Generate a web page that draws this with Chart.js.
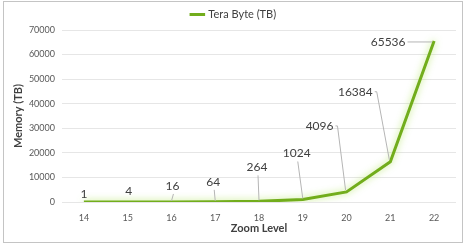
<!DOCTYPE html>
<html>
<head>
<meta charset="utf-8">
<script src="https://cdn.jsdelivr.net/npm/chart.js"></script>
<style>
  html, body { margin: 0; padding: 0; background: #fff; }
  #frame { position: absolute; left: 3px; top: 1px; width: 458px; height: 240px; border: 1.5px solid #c4c4c4; }
  #wrap { position: absolute; left: 0; top: 0; width: 471px; height: 246px; }
</style>
</head>
<body>
<div id="frame"></div>
<div id="wrap"><canvas id="chart" width="471" height="246"></canvas></div>
<script>
// data
const zoomLevels = ['14', '15', '16', '17', '18', '19', '20', '21', '22'];
const memoryTB = [1, 4, 16, 64, 264, 1024, 4096, 16384, 65536];
const seriesName = 'Tera Byte (TB)';

// where each value label sits relative to its point (px), and whether it gets a leader line
const labelOffsets = [
    { dx: 0, dy: -8, line: false },
    { dx: 1, dy: -11, line: false },
    { dx: 1, dy: -16, line: true },
    { dx: -2, dy: -20, line: true },
    { dx: -2, dy: -34, line: true },
    { dx: -6, dy: -46, line: true },
    { dx: -27, dy: -66, line: true, side: true },
    { dx: -35, dy: -70, line: true, side: true },
    { dx: -46, dy: 1, line: true, side: true }
];

const FONT = 'Lato, "Open Sans", sans-serif';

// soft glow under the line
const glowPlugin = {
    id: 'glow',
    beforeDatasetsDraw(chart) {
        const ctx = chart.ctx;
        ctx.save();
        ctx.shadowColor = 'rgba(170, 225, 80, 0.75)';
        ctx.shadowBlur = 7;
    },
    afterDatasetsDraw(chart) {
        chart.ctx.restore();
    }
};

// value labels with grey leader lines
const valueLabels = {
    id: 'valueLabels',
    afterDatasetsDraw(chart) {
        const ctx = chart.ctx;
        const meta = chart.getDatasetMeta(0);
        ctx.save();
        ctx.font = '12px ' + FONT;
        ctx.textAlign = 'center';
        ctx.textBaseline = 'middle';
        meta.data.forEach((pt, i) => {
            const off = labelOffsets[i];
            const text = String(memoryTB[i]);
            const lx = pt.x + off.dx;
            const ly = pt.y + off.dy;
            if (off.line) {
                ctx.strokeStyle = '#b5b5b5';
                ctx.lineWidth = 1;
                ctx.beginPath();
                if (off.side) {
                    const w = ctx.measureText(text).width;
                    ctx.moveTo(lx + w / 2 + 2, ly);
                    if (i === memoryTB.length - 1) {
                        ctx.lineTo(pt.x - 2, ly);
                    } else {
                        ctx.lineTo(lx + w / 2 + 4, ly);
                        ctx.lineTo(pt.x - 1, pt.y - 2);
                    }
                } else {
                    ctx.moveTo(lx + 1, ly + 8);
                    ctx.lineTo(pt.x, pt.y - 1);
                }
                ctx.stroke();
            }
            ctx.fillStyle = '#404040';
            ctx.fillText(text, lx, ly);
        });
        ctx.restore();
    }
};

new Chart(document.getElementById('chart'), {
    type: 'line',
    data: {
        labels: zoomLevels,
        datasets: [{
            label: seriesName,
            data: memoryTB,
            borderColor: '#72ad1c',
            backgroundColor: '#72ad1c',
            borderWidth: 3,
            pointRadius: 0,
            tension: 0
        }]
    },
    options: {
        responsive: false,
        animation: false,
        layout: { padding: { left: 12, right: 15, top: 1, bottom: 11 } },
        plugins: {
            tooltip: { enabled: false },
            legend: {
                position: 'top',
                labels: {
                    usePointStyle: true,
                    pointStyle: 'line',
                    boxWidth: 12,
                    padding: 8,
                    color: '#404040',
                    font: { family: FONT, size: 11 }
                }
            }
        },
        scales: {
            x: {
                offset: true,
                grid: { display: false },
                border: { display: false },
                ticks: { color: '#595959', font: { family: FONT, size: 9 }, padding: 3 },
                title: { display: true, text: 'Zoom Level', color: '#404040', font: { family: FONT, size: 11, weight: 'bold' }, padding: 0 },
                afterFit(scale) { scale.height = 33; }
            },
            y: {
                min: 0,
                max: 70000,
                ticks: {
                    stepSize: 10000,
                    color: '#595959',
                    font: { family: FONT, size: 9 },
                    padding: 7,
                    callback: (v) => String(v)
                },
                grid: { color: '#e6e6e6', drawTicks: false },
                border: { display: false },
                title: { display: true, text: 'Memory (TB)', color: '#404040', font: { family: FONT, size: 11, weight: 'bold' }, padding: 0 },
                afterFit(scale) { scale.width = 50; }
            }
        }
    },
    plugins: [glowPlugin, valueLabels]
});
</script>
</body>
</html>
